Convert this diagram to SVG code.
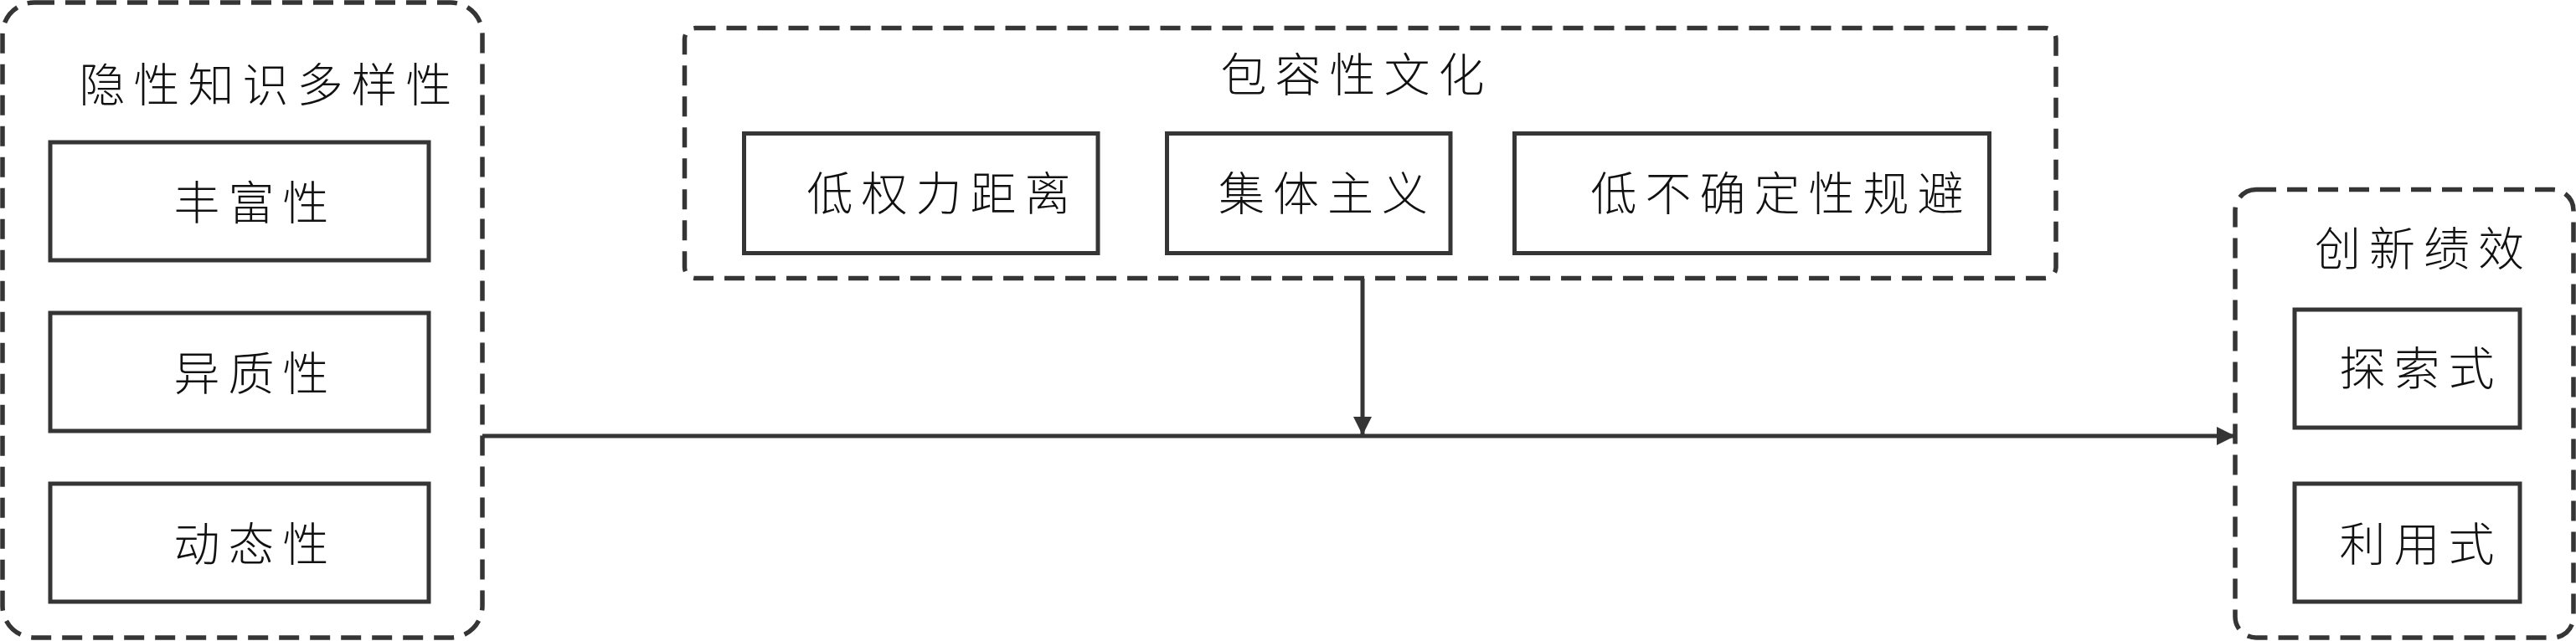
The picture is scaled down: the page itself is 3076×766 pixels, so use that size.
<svg xmlns="http://www.w3.org/2000/svg" width="3076" height="766" viewBox="0 0 3076 766">
<style>
.group{fill:none;stroke:#353535;stroke-width:5.5;stroke-dasharray:24 13}
.box{fill:#ffffff;stroke:#353535;stroke-width:5}
.lbl{font-family:"Noto Sans CJK SC","Noto Sans CJK JP",sans-serif;font-size:55px;font-weight:300;fill:#111111;text-anchor:middle;dominant-baseline:central;letter-spacing:10px}
.conn{fill:none;stroke:#353535;stroke-width:5}
</style>
<defs>
<marker id="arrow" markerUnits="userSpaceOnUse" markerWidth="24" markerHeight="24" refX="22" refY="11" orient="auto">
<path d="M0,0 L22,11 L0,22 z" fill="#353535"/>
</marker>
</defs>
<rect width="3076" height="766" fill="#ffffff"/>
<g id="connectors">
<line class="conn" x1="576" y1="521" x2="2669" y2="521" marker-end="url(#arrow)"/>
<line class="conn" x1="1627" y1="333" x2="1627" y2="520" marker-end="url(#arrow)"/>
</g>
<g id="tacit-knowledge-diversity">
<rect class="group" x="3" y="3" width="573" height="759" rx="38" ry="38"/>
<text class="lbl" x="322" y="97">隐性知识多样性</text>
</g>
<g id="richness">
<rect class="box" x="60" y="170" width="452" height="141"/>
<text class="lbl" x="305" y="237.5">丰富性</text>
</g>
<g id="heterogeneity">
<rect class="box" x="60" y="374" width="452" height="141"/>
<text class="lbl" x="305" y="441.5">异质性</text>
</g>
<g id="dynamism">
<rect class="box" x="60" y="578" width="452" height="141"/>
<text class="lbl" x="305" y="645.5">动态性</text>
</g>
<g id="inclusive-culture">
<rect class="group" x="817.5" y="33.5" width="1637.5" height="299" rx="13" ry="13"/>
<text class="lbl" x="1620" y="85">包容性文化</text>
</g>
<g id="low-power-distance">
<rect class="box" x="888.5" y="159.5" width="422.5" height="143"/>
<text class="lbl" x="1126" y="227">低权力距离</text>
</g>
<g id="collectivism">
<rect class="box" x="1393.5" y="159.5" width="338.5" height="143"/>
<text class="lbl" x="1585" y="227">集体主义</text>
</g>
<g id="low-uncertainty-avoidance">
<rect class="box" x="1808.5" y="159.5" width="567" height="143"/>
<text class="lbl" x="2127" y="227">低不确定性规避</text>
</g>
<g id="innovation-performance">
<rect class="group" x="2669" y="226.5" width="404" height="535.5" rx="25" ry="25"/>
<text class="lbl" x="2894" y="293">创新绩效</text>
</g>
<g id="exploratory">
<rect class="box" x="2740" y="370" width="269" height="141"/>
<text class="lbl" x="2891" y="435.5">探索式</text>
</g>
<g id="exploitative">
<rect class="box" x="2740" y="578" width="269" height="141"/>
<text class="lbl" x="2891" y="645.5">利用式</text>
</g>
</svg>
